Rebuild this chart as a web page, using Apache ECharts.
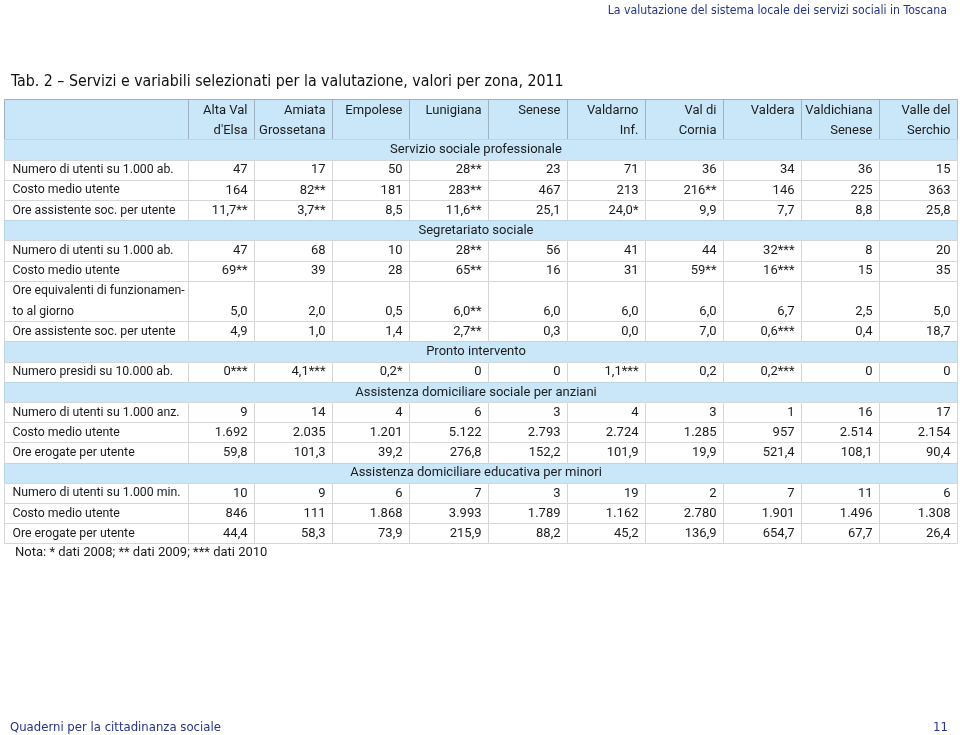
<!DOCTYPE html>
<html><head><meta charset="utf-8">
<script src="https://cdn.jsdelivr.net/npm/echarts@6/dist/echarts.min.js"></script>
<style>html,body{margin:0;padding:0;background:#fff}#c{width:960px;height:735px}</style>
</head><body><div id="c"></div>
<script>
// ---- data ----
const zoneLine1 = ['Alta Val','Amiata','Empolese','Lunigiana','Senese','Valdarno','Val di','Valdera','Valdichiana','Valle del'];
const zoneLine2 = ["d'Elsa",'Grossetana','','','','Inf.','Cornia','','Senese','Serchio'];

const sec1Title = 'Servizio sociale professionale';
const sec1Labels = ['Numero di utenti su 1.000 ab.','Costo medio utente','Ore assistente soc. per utente'];
const sec1Row1 = ['47','17','50','28**','23','71','36','34','36','15'];
const sec1Row2 = ['164','82**','181','283**','467','213','216**','146','225','363'];
const sec1Row3 = ['11,7**','3,7**','8,5','11,6**','25,1','24,0*','9,9','7,7','8,8','25,8'];

const sec2Title = 'Segretariato sociale';
const sec2Labels = ['Numero di utenti su 1.000 ab.','Costo medio utente','Ore equivalenti di funzionamen-|to al giorno','Ore assistente soc. per utente'];
const sec2Row1 = ['47','68','10','28**','56','41','44','32***','8','20'];
const sec2Row2 = ['69**','39','28','65**','16','31','59**','16***','15','35'];
const sec2Row3 = ['5,0','2,0','0,5','6,0**','6,0','6,0','6,0','6,7','2,5','5,0'];
const sec2Row4 = ['4,9','1,0','1,4','2,7**','0,3','0,0','7,0','0,6***','0,4','18,7'];

const sec3Title = 'Pronto intervento';
const sec3Labels = ['Numero presidi su 10.000 ab.'];
const sec3Row1 = ['0***','4,1***','0,2*','0','0','1,1***','0,2','0,2***','0','0'];

const sec4Title = 'Assistenza domiciliare sociale per anziani';
const sec4Labels = ['Numero di utenti su 1.000 anz.','Costo medio utente','Ore erogate per utente'];
const sec4Row1 = ['9','14','4','6','3','4','3','1','16','17'];
const sec4Row2 = ['1.692','2.035','1.201','5.122','2.793','2.724','1.285','957','2.514','2.154'];
const sec4Row3 = ['59,8','101,3','39,2','276,8','152,2','101,9','19,9','521,4','108,1','90,4'];

const sec5Title = 'Assistenza domiciliare educativa per minori';
const sec5Labels = ['Numero di utenti su 1.000 min.','Costo medio utente','Ore erogate per utente'];
const sec5Row1 = ['10','9','6','7','3','19','2','7','11','6'];
const sec5Row2 = ['846','111','1.868','3.993','1.789','1.162','2.780','1.901','1.496','1.308'];
const sec5Row3 = ['44,4','58,3','73,9','215,9','88,2','45,2','136,9','654,7','67,7','26,4'];

const noteText = 'Nota: * dati 2008; ** dati 2009; *** dati 2010';
const pageHeader = 'La valutazione del sistema locale dei servizi sociali in Toscana';
const tableTitle = 'Tab. 2 \u2013 Servizi e variabili selezionati per la valutazione, valori per zona, 2011';
const footerLeft = 'Quaderni per la cittadinanza sociale';
const footerRight = '11';

// ---- layout (not data) ----
const colEdges = [0,184,250,328,405,484,563,641,719,797,875,953];
const BAND = '#c9e7f9', HDR_LINE = '#9fb2c2', CELL_LINE = '#d6d6d6', TXT = '#1c1c1c', BLUE = '#26348a';
const FONT = 'Roboto, "Liberation Sans", Arial, sans-serif';
const NARROW = '"Liberation Sans Narrow", "DejaVu Sans Condensed", "Liberation Sans", sans-serif';

const sections = [
  {title: sec1Title, labels: sec1Labels, rows: [sec1Row1, sec1Row2, sec1Row3]},
  {title: sec2Title, labels: sec2Labels, rows: [sec2Row1, sec2Row2, sec2Row3, sec2Row4]},
  {title: sec3Title, labels: sec3Labels, rows: [sec3Row1]},
  {title: sec4Title, labels: sec4Labels, rows: [sec4Row1, sec4Row2, sec4Row3]},
  {title: sec5Title, labels: sec5Labels, rows: [sec5Row1, sec5Row2, sec5Row3]}
];

const cells = [];
cells.push({kind: 'hbg', c0: 0, c1: 11, r0: 0, r1: 2});
zoneLine1.forEach((z, i) => cells.push({kind: 'hcell', c0: i + 1, c1: i + 2, r0: 0, r1: 2, lines: [z, zoneLine2[i]]}));
let slot = 2;
sections.forEach(s => {
  cells.push({kind: 'sec', c0: 0, c1: 11, r0: slot, r1: slot + 1, text: s.title});
  slot++;
  s.labels.forEach((lab, k) => {
    const lines = lab.split('|');
    const h = lines.length;
    cells.push({kind: 'lab', c0: 0, c1: 1, r0: slot, r1: slot + h, lines: lines});
    s.rows[k].forEach((v, i) => cells.push({kind: 'val', c0: i + 1, c1: i + 2, r0: slot, r1: slot + h, text: v}));
    slot += h;
  });
});
const totalSlots = slot;

function renderItem(params, api) {
  const c = cells[params.dataIndex];
  const p0 = api.coord([colEdges[c.c0], c.r0]);
  const p1 = api.coord([colEdges[c.c1], c.r1]);
  const x = Math.round(p0[0]) + 0.5, y = Math.round(p0[1]) + 0.5;
  const w = Math.round(p1[0]) - Math.round(p0[0]), h = Math.round(p1[1]) - Math.round(p0[1]);
  const slotY = r => api.coord([0, r + 0.5])[1] + 0.5;
  const children = [];
  const ts = {font: '13px ' + FONT, fill: TXT, verticalAlign: 'middle'};
  const labTs = {font: '12.3px ' + FONT, fill: TXT, verticalAlign: 'middle'};
  if (c.kind === 'hbg') {
    children.push({type: 'rect', shape: {x, y, width: w, height: h}, style: {fill: BAND, stroke: HDR_LINE, lineWidth: 1}});
  } else if (c.kind === 'hcell') {
    children.push({type: 'rect', shape: {x, y, width: w, height: h}, style: {fill: 'none', stroke: HDR_LINE, lineWidth: 1}});
    c.lines.forEach((t, k) => children.push({type: 'text', z2: 10, style: Object.assign({}, ts, {text: t, x: x + w - 7, y: slotY(c.r0 + k) + 1, align: 'right'})}));
  } else if (c.kind === 'sec') {
    children.push({type: 'rect', shape: {x, y, width: w, height: h}, style: {fill: BAND, stroke: '#bcd6e6', lineWidth: 1}});
    children.push({type: 'text', z2: 10, style: Object.assign({}, ts, {text: c.text, x: x + w / 2 - 5, y: slotY(c.r0), align: 'center'})});
  } else if (c.kind === 'lab') {
    children.push({type: 'rect', shape: {x, y, width: w, height: h}, style: {fill: '#fff', stroke: CELL_LINE, lineWidth: 1}});
    c.lines.forEach((t, k) => children.push({type: 'text', z2: 10, style: Object.assign({}, labTs, {text: t, x: x + 8, y: slotY(c.r0 + k), align: 'left'})}));
  } else {
    children.push({type: 'rect', shape: {x, y, width: w, height: h}, style: {fill: '#fff', stroke: CELL_LINE, lineWidth: 1}});
    children.push({type: 'text', z2: 10, style: Object.assign({}, ts, {text: c.text, x: x + w - 7, y: slotY(c.r1 - 1), align: 'right'})});
  }
  return {type: 'group', children: children};
}

const chart = echarts.init(document.getElementById('c'), null, {renderer: 'canvas'});
chart.setOption({
  animation: false,
  backgroundColor: '#ffffff',
  title: [
    {text: pageHeader, right: 8, top: 0, textStyle: {fontFamily: NARROW, fontSize: 12.2, fontWeight: 'normal', color: BLUE}},
    {text: tableTitle, left: 6, top: 69, textStyle: {fontFamily: NARROW, fontSize: 15.8, fontWeight: 'normal', color: '#111'}},
    {text: noteText, left: 10, top: 541, textStyle: {fontFamily: FONT, fontSize: 13, fontWeight: 'normal', color: TXT}},
    {text: footerLeft, left: 5, top: 716, textStyle: {fontFamily: NARROW, fontSize: 13, fontWeight: 'normal', color: BLUE}},
    {text: footerRight, right: 7, top: 716, textStyle: {fontFamily: NARROW, fontSize: 13, fontWeight: 'normal', color: BLUE}}
  ],
  grid: {left: 4, top: 99, width: 953, height: totalSlots * 20.2},
  xAxis: {type: 'value', min: 0, max: colEdges[colEdges.length - 1], show: false},
  yAxis: {type: 'value', min: 0, max: totalSlots, inverse: true, show: false},
  series: [{
    type: 'custom',
    renderItem: renderItem,
    data: cells.map(c => [colEdges[c.c0], c.r0]),
    clip: false,
    silent: true
  }]
});
</script></body></html>
